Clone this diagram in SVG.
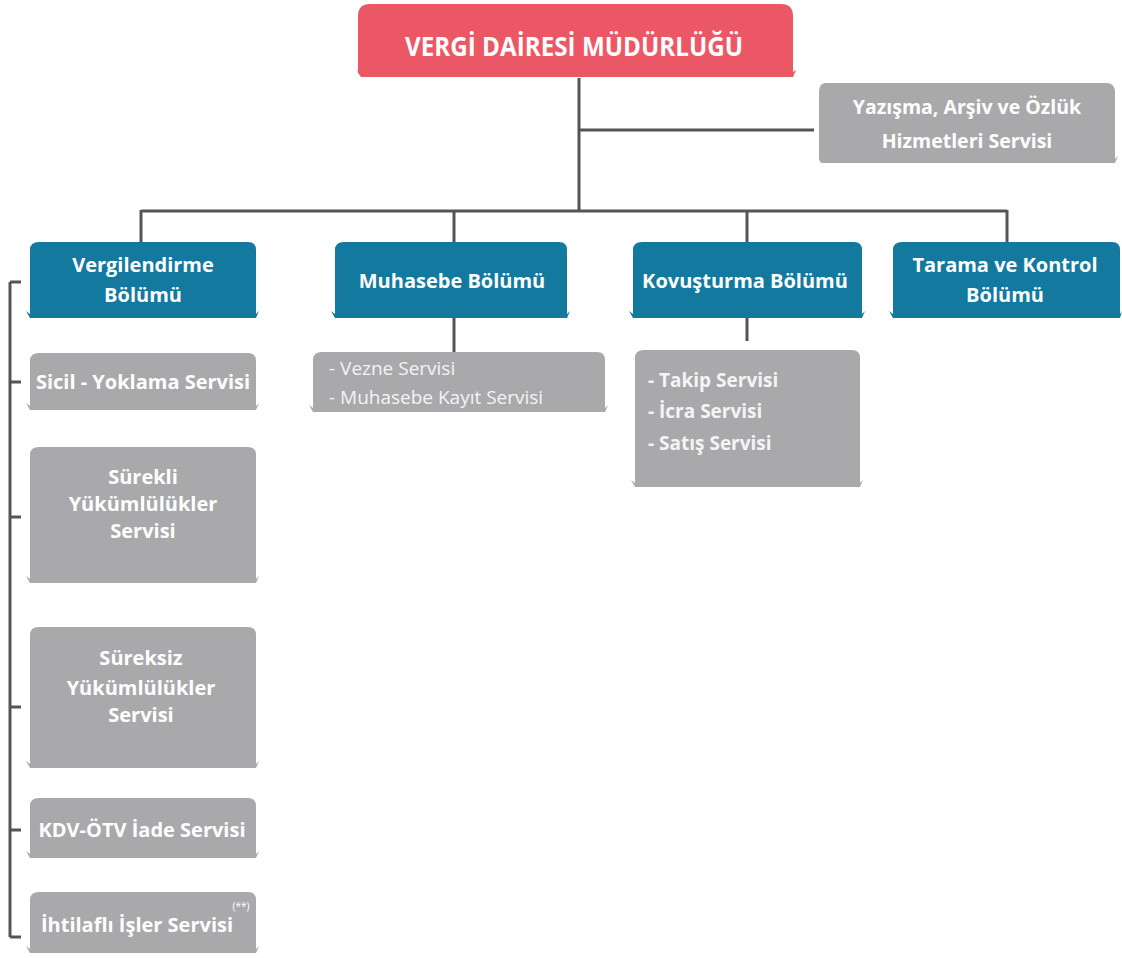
<svg xmlns="http://www.w3.org/2000/svg" width="1122" height="958" viewBox="0 0 1122 958">
<defs>
<style>
.red{fill:#ec5766}
.blue{fill:#14799f}
.gray{fill:#a9a9ab}
.t{font-family:"Open Sans","Noto Sans","Liberation Sans",sans-serif;font-weight:bold;fill:#ffffff;text-anchor:middle;font-size:20px}
.tl{font-family:"Open Sans","Noto Sans","Liberation Sans",sans-serif;font-weight:bold;fill:#f4f4f4;text-anchor:start;font-size:19px}
.tn{font-family:"Open Sans","Noto Sans","Liberation Sans",sans-serif;font-weight:normal;fill:#f4f4f4;text-anchor:start;font-size:19px}
.ln{stroke:#555;stroke-width:3;fill:none}
</style>
</defs>
<rect width="1122" height="958" fill="#ffffff"/>

<g id="connectors">
<path class="ln" d="M579 78 V211"/>
<path class="ln" d="M579 130 H814"/>
<path class="ln" d="M141 211 H1007"/>
<path class="ln" d="M141 210 V242"/>
<path class="ln" d="M454 210 V242"/>
<path class="ln" d="M747 210 V242"/>
<path class="ln" d="M1007 210 V242"/>
<path class="ln" d="M454 318 V352"/>
<path class="ln" d="M747 318 V341"/>
<path class="ln" d="M10 282 V937"/>
<path class="ln" d="M10 282 H21"/>
<path class="ln" d="M10 382 H21"/>
<path class="ln" d="M10 517 H21"/>
<path class="ln" d="M10 707 H21"/>
<path class="ln" d="M10 830 H21"/>
<path class="ln" d="M10 937 H21"/>
</g>

<g id="n-mudurluk">
<path class="red" d="M370 4 H781 Q793 4 793 16 V72 L796 70 L793 77 H361 L356 70 L358 72 V16 Q358 4 370 4 Z"/>
<text class="t" x="574" y="56" style="font-size:26px" textLength="338" lengthAdjust="spacingAndGlyphs">VERGİ DAİRESİ MÜDÜRLÜĞÜ</text>
</g>

<g id="n-yazisma">
<path class="gray" d="M826 83 H1106 Q1115 83 1115 92 V159 L1118 156 L1115 163 H821 L817 156 L819 159 V92 Q819 83 826 83 Z"/>
<text class="t" x="967" y="114" style="font-size:19.5px">Yazışma, Arşiv ve Özlük</text>
<text class="t" x="967" y="148" style="font-size:19.5px">Hizmetleri Servisi</text>
</g>

<g id="n-vergilendirme">
<path class="blue" d="M39 242 H248 Q256 242 256 250 V314 L259 311 L256 318 H30 L26 311 L30 314 V250 Q30 242 39 242 Z"/>
<text class="t" x="143" y="272">Vergilendirme</text>
<text class="t" x="143" y="302">Bölümü</text>
</g>

<g id="n-muhasebe">
<path class="blue" d="M344 242 H559 Q567 242 567 250 V314 L570 311 L567 318 H335 L331 311 L335 314 V250 Q335 242 344 242 Z"/>
<text class="t" x="452" y="288">Muhasebe Bölümü</text>
</g>

<g id="n-kovusturma">
<path class="blue" d="M642 242 H854 Q862 242 862 250 V314 L865 311 L862 318 H633 L629 311 L633 314 V250 Q633 242 642 242 Z"/>
<text class="t" x="745" y="288">Kovuşturma Bölümü</text>
</g>

<g id="n-tarama">
<path class="blue" d="M902 242 H1112 Q1120 242 1120 250 V314 L1122 311 L1120 318 H893 L889 311 L893 314 V250 Q893 242 902 242 Z"/>
<text class="t" x="1005" y="272">Tarama ve Kontrol</text>
<text class="t" x="1005" y="302">Bölümü</text>
</g>

<g id="n-sicil">
<path class="gray" d="M39 353 H248 Q256 353 256 361 V406 L259 403 L256 410 H30 L26 403 L30 406 V361 Q30 353 39 353 Z"/>
<text class="t" x="143" y="389">Sicil - Yoklama Servisi</text>
</g>

<g id="n-surekli">
<path class="gray" d="M39 447 H248 Q256 447 256 455 V579 L259 576 L256 583 H30 L26 576 L30 579 V455 Q30 447 39 447 Z"/>
<text class="t" x="143" y="484">Sürekli</text>
<text class="t" x="143" y="511">Yükümlülükler</text>
<text class="t" x="143" y="538">Servisi</text>
</g>

<g id="n-sureksiz">
<path class="gray" d="M39 627 H248 Q256 627 256 635 V764 L259 761 L256 768 H30 L26 761 L30 764 V635 Q30 627 39 627 Z"/>
<text class="t" x="141" y="665">Süreksiz</text>
<text class="t" x="141" y="695">Yükümlülükler</text>
<text class="t" x="141" y="722">Servisi</text>
</g>

<g id="n-kdv">
<path class="gray" d="M39 798 H248 Q256 798 256 806 V854 L259 851 L256 858 H30 L26 851 L30 854 V806 Q30 798 39 798 Z"/>
<text class="t" x="142" y="837">KDV-ÖTV İade Servisi</text>
</g>

<g id="n-ihtilafli">
<path class="gray" d="M39 892 H248 Q256 892 256 900 V949 L259 946 L256 953 H30 L26 946 L30 949 V900 Q30 892 39 892 Z"/>
<text class="t" x="137" y="932">İhtilaflı İşler Servisi</text>
<text class="t" x="241" y="910" style="font-size:10px;font-weight:normal">(**)</text>
</g>

<g id="n-muhasebe-servis">
<path class="gray" d="M322 352 H597 Q605 352 605 360 V408 L608 405 L605 412 H313 L309 405 L313 408 V360 Q313 352 322 352 Z"/>
<text class="tn" x="329" y="375">- Vezne Servisi</text>
<text class="tn" x="329" y="404">- Muhasebe Kayıt Servisi</text>
</g>

<g id="n-kovusturma-servis">
<path class="gray" d="M644 350 H852 Q860 350 860 358 V483 L863 480 L860 487 H635 L631 480 L635 483 V358 Q635 350 644 350 Z"/>
<text class="tl" x="648" y="387">- Takip Servisi</text>
<text class="tl" x="648" y="418">- İcra Servisi</text>
<text class="tl" x="648" y="450">- Satış Servisi</text>
</g>
</svg>
